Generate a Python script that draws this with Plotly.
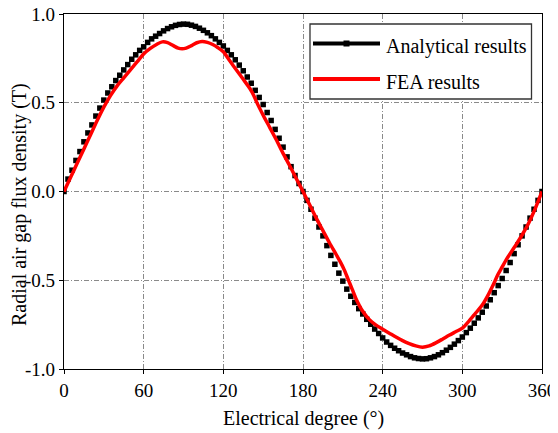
import plotly.graph_objects as go

# ---------------- data ----------------
ana_deg = list(range(0, 361, 3))
ana_val = [
    0.0, 0.07, 0.12, 0.175, 0.225, 0.28, 0.33, 0.375, 0.425, 0.47,
    0.515, 0.555, 0.59, 0.625, 0.655, 0.685, 0.715, 0.745, 0.77, 0.795,
    0.815, 0.84, 0.86, 0.875, 0.89, 0.905, 0.918, 0.928, 0.936, 0.941,
    0.943, 0.942, 0.937, 0.93, 0.92, 0.908, 0.894, 0.878, 0.86, 0.84,
    0.82, 0.795, 0.77, 0.742, 0.712, 0.68, 0.645, 0.61, 0.57, 0.53,
    0.49, 0.445, 0.4, 0.35, 0.3, 0.25, 0.195, 0.14, 0.09, 0.045,
    0.0, -0.05, -0.1, -0.15, -0.2, -0.25, -0.305, -0.36, -0.41, -0.46,
    -0.505, -0.55, -0.59, -0.625, -0.66, -0.69, -0.72, -0.748, -0.775, -0.8,
    -0.825, -0.848, -0.867, -0.883, -0.897, -0.91, -0.92, -0.93, -0.937, -0.941,
    -0.943, -0.942, -0.937, -0.93, -0.92, -0.908, -0.894, -0.878, -0.86, -0.84,
    -0.82, -0.795, -0.77, -0.742, -0.712, -0.68, -0.645, -0.61, -0.57, -0.53,
    -0.49, -0.445, -0.4, -0.35, -0.3, -0.25, -0.2, -0.15, -0.1, -0.05,
    0.0,
]

fea_deg = [0, 5, 10, 15, 20, 25, 30, 35, 40, 45, 50, 55, 60, 65, 70, 74, 78, 82, 86, 89,
           92, 96, 100, 104, 108, 112, 116, 120, 125, 130, 135, 140, 143, 145, 150, 155,
           160, 165, 170, 175, 180, 185, 190, 195, 200, 205, 208, 211, 214, 217, 220,
           225, 230, 235, 240, 245, 250, 255, 260, 265, 270, 275, 280, 285, 290, 295,
           300, 305, 310, 315, 320, 323, 327, 330, 333, 336, 340, 345, 350, 355, 360]
fea_val = [0.0, 0.08, 0.16, 0.24, 0.32, 0.40, 0.475, 0.54, 0.595, 0.64, 0.685, 0.73,
           0.775, 0.806, 0.83, 0.843, 0.839, 0.823, 0.808, 0.804,
           0.808, 0.822, 0.838, 0.845, 0.84, 0.828, 0.81, 0.787, 0.735, 0.683, 0.632,
           0.58, 0.54, 0.505, 0.43, 0.36,
           0.29, 0.215, 0.145, 0.072, 0.0, -0.075, -0.15, -0.22, -0.29, -0.355, -0.395,
           -0.44, -0.495, -0.55, -0.605,
           -0.675, -0.722, -0.753, -0.776, -0.798, -0.82, -0.84, -0.857, -0.87, -0.877,
           -0.87, -0.853, -0.832, -0.81, -0.79,
           -0.77, -0.73, -0.685, -0.64, -0.575, -0.53, -0.465, -0.425, -0.385, -0.35,
           -0.305, -0.245, -0.177, -0.095, 0.0]

x_ticks = [0, 60, 120, 180, 240, 300, 360]
x_ticklabels = ["0", "60", "120", "180", "240", "300", "360"]
y_ticks = [-1.0, -0.5, 0.0, 0.5, 1.0]
y_ticklabels = ["-1.0", "-0.5", "0.0", "0.5", "1.0"]

series_names = ["Analytical results", "FEA results"]
x_title = "Electrical degree (°)"
y_title = "Radial air gap flux density (T)"

# ---------------- figure ----------------
FONT = "Liberation Serif"
OFF = 8                      # page body margin
W, H = 558 - OFF, 433 - OFF
ML, MR, MT, MB = 64 - OFF, 16, 14 - OFF, 64
PW, PH = W - ML - MR, H - MT - MB


def px(xp):
    return (xp - OFF - ML) / PW


def py(yp):
    return (H + OFF - MB - yp) / PH


fig = go.Figure()
fig.add_trace(go.Scatter(
    x=ana_deg, y=ana_val, mode="markers", name=series_names[0],
    marker=dict(symbol="square", size=5.5, color="black", line=dict(width=0)),
    showlegend=False,
))
fig.add_trace(go.Scatter(
    x=fea_deg, y=fea_val, mode="lines", name=series_names[1],
    line=dict(color="#ff0000", width=3.5, shape="spline", smoothing=0.8),
    showlegend=False,
))

axis_common = dict(
    showline=True, linecolor="black", linewidth=1.3, mirror=True,
    ticks="outside", ticklen=4, tickwidth=1.2, tickcolor="black",
    showgrid=True, gridcolor="#8a8a8a", gridwidth=1, griddash="5px,2px,1px,2px",
    zeroline=False, ticklabeloverflow="allow", automargin=False,
    tickfont=dict(family=FONT, size=19, color="black"),
)

fig.update_xaxes(range=[0, 360], tickvals=x_ticks, ticktext=x_ticklabels, **axis_common)
fig.update_yaxes(range=[-1, 1], tickvals=y_ticks, ticktext=y_ticklabels, **axis_common)

annotations = [
    dict(text=x_title, xref="paper", yref="paper", x=0.5, y=py(418),
         xanchor="center", yanchor="middle", showarrow=False,
         font=dict(family=FONT, size=20, color="black")),
    dict(text=y_title, xref="paper", yref="paper", x=px(20), y=py(205),
         xanchor="center", yanchor="middle", textangle=-90, showarrow=False,
         font=dict(family=FONT, size=20, color="black")),
    dict(text=series_names[0], xref="paper", yref="paper", x=px(384), y=py(47),
         xanchor="left", yanchor="middle", showarrow=False,
         font=dict(family=FONT, size=20, color="black")),
    dict(text=series_names[1], xref="paper", yref="paper", x=px(384), y=py(82),
         xanchor="left", yanchor="middle", showarrow=False,
         font=dict(family=FONT, size=20, color="black")),
]

shapes = [
    dict(type="rect", xref="paper", yref="paper", x0=px(310), x1=px(531.5),
         y0=py(99), y1=py(24), line=dict(color="#333333", width=1.3),
         fillcolor="white", layer="above"),
    dict(type="line", xref="paper", yref="paper", x0=px(313), x1=px(380),
         y0=py(43.5), y1=py(43.5), line=dict(color="black", width=4), layer="above"),
    dict(type="rect", xref="paper", yref="paper", x0=px(343.5), x1=px(349.5),
         y0=py(46.5), y1=py(40.5), line=dict(width=0), fillcolor="black", layer="above"),
    dict(type="line", xref="paper", yref="paper", x0=px(313), x1=px(380),
         y0=py(79), y1=py(79), line=dict(color="#ff0000", width=4), layer="above"),
]

fig.update_layout(
    width=W, height=H,
    margin=dict(l=ML, r=MR, t=MT, b=MB, autoexpand=False),
    paper_bgcolor="white", plot_bgcolor="white",
    font=dict(family=FONT, size=19, color="black"),
    annotations=annotations, shapes=shapes,
    showlegend=False,
)

fig.write_html("out.html")
